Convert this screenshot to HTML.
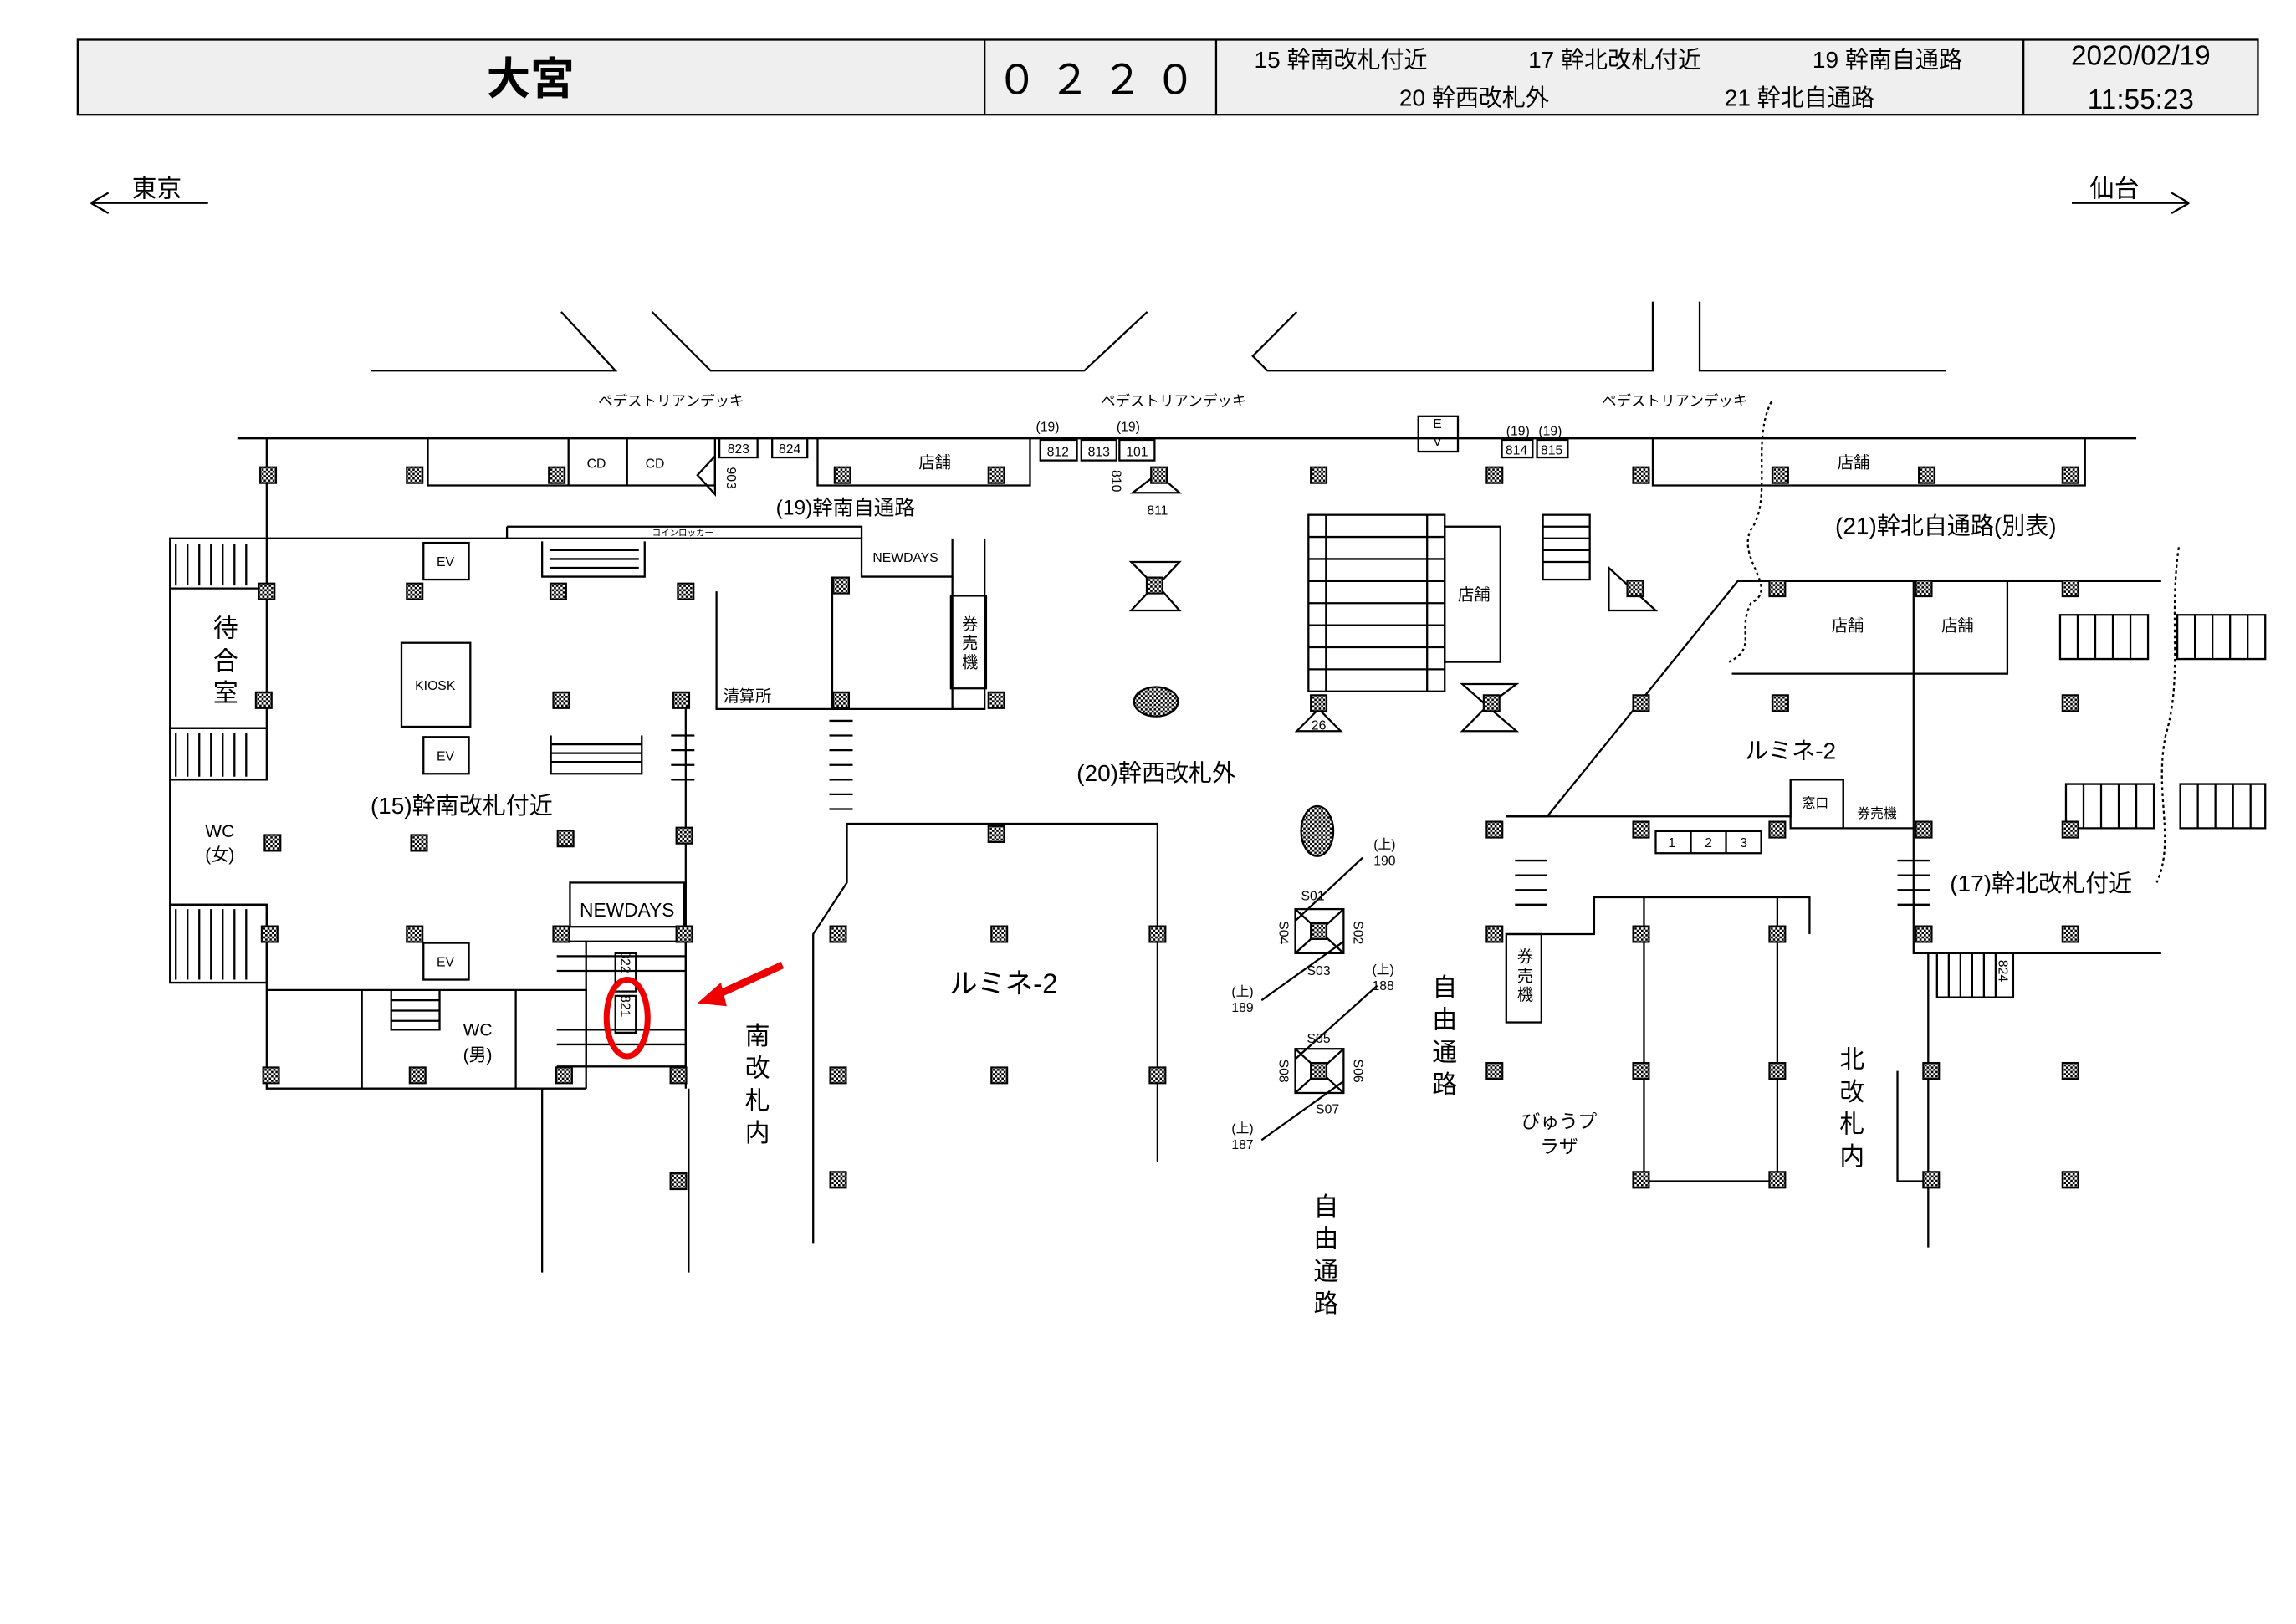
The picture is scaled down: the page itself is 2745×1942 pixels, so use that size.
<!DOCTYPE html>
<html><head><meta charset="utf-8"><style>
html,body{margin:0;padding:0;background:#fff;}
svg{display:block;}
text{font-family:"Liberation Sans","Noto Sans CJK JP",sans-serif;fill:#000;}
</style></head><body>
<svg width="2745" height="1942" viewBox="0 0 1567 1104" preserveAspectRatio="none" xmlns="http://www.w3.org/2000/svg">
<defs>
<pattern id="chk" width="3" height="3" patternUnits="userSpaceOnUse"><rect width="3" height="3" fill="#fff"/><rect width="1.5" height="1.5" fill="#000"/><rect x="1.5" y="1.5" width="1.5" height="1.5" fill="#000"/></pattern>
<symbol id="p" viewBox="0 0 12 12"><rect x="0.5" y="0.5" width="11" height="11" fill="url(#chk)" stroke="#000" stroke-width="1.4"/></symbol>
</defs>
<rect width="1567" height="1104" fill="#fff"/>
<g stroke="#000" fill="none" stroke-width="1.3">
<rect x="53" y="27" width="1488" height="51" fill="#efefef"/>
<line x1="672" y1="27" x2="672" y2="78"/><line x1="830" y1="27" x2="830" y2="78"/><line x1="1381" y1="27" x2="1381" y2="78"/>
<path d="M62 138H142M62 138l12-7M62 138l12 7"/>
<path d="M1414 138H1494M1494 138l-12-7M1494 138l-12 7"/>
<path d="M253 252H420L383 212M445 212L485 252H740L783 212M885 212L855 242L865 252H1128V205M1160 205V252H1328"/>
<line x1="162" y1="298" x2="1458" y2="298"/>
<line x1="182" y1="298" x2="182" y2="366"/>
<path d="M292 298V330H488V298M388 298V330M428 298V330"/>
<rect x="491" y="298" width="26" height="13"/><rect x="527" y="298" width="24" height="13"/>
<path d="M558 298V330H703V298"/>
<rect x="710" y="299" width="25" height="14"/><rect x="738" y="299" width="24" height="14"/><rect x="764" y="299" width="24" height="14"/>
<rect x="968" y="283" width="27" height="24"/>
<rect x="1025" y="299" width="21" height="12"/><rect x="1049" y="299" width="21" height="12"/>
<path d="M1128 298V330H1423V298"/>
<path d="M476 323L488 310V336Z"/>
<path d="M773 335L805 335L790 322Z"/>
<path d="M1209 273 C1195 300 1210 340 1195 360 C1185 380 1215 400 1195 410 C1185 430 1200 440 1180 450" stroke-dasharray="2 2"/>
<path d="M182 366H588V392H650V366M346 358H588V366M346 358V366"/>
<path d="M116 366H182V400H116ZM116 366V400"/>
<path d="M116 400V495H182V400"/>
<path d="M116 495H182V530H116Z"/>
<path d="M116 530V615H182"/>
<path d="M116 615H182V668H116Z"/>
<path d="M182 615V740H400"/>
<rect x="289" y="369" width="31" height="25"/>
<rect x="274" y="437" width="47" height="57"/>
<rect x="289" y="501" width="31" height="25"/>
<rect x="289" y="641" width="31" height="25"/>
<path d="M370 368V392H440V368M375 374H436M375 380H436M375 386H436"/>
<path d="M376 500V526H438V500M376 506H438M376 512H438M376 518H438"/>
<path d="M489 402V482H672V366M568 392V482M650 392V482"/>
<rect x="649" y="405" width="24" height="63"/>
<path d="M458 500h16M458 510h16M458 520h16M458 530h16"/>
<path d="M566 490h16M566 500h16M566 510h16M566 520h16M566 530h16M566 540h16M566 550h16"/>
<path d="M468 482V740"/>
<path d="M182 673H400V740M247 673V740M267 673H300V700H267ZM267 680H300M267 687H300M267 694H300"/>
<path d="M352 673V740"/>
<rect x="389" y="600" width="78" height="30"/>
<path d="M380 640H468V725H400M380 650H468M380 660H468M380 700H468M380 710H468M380 725H468M400 640V725"/>
<rect x="420" y="648" width="14" height="26"/><rect x="420" y="677" width="14" height="25"/>
<path d="M370 740V865M470 740V865"/>
<path d="M555 845V635L578 600V560H790V790"/>
<rect x="893" y="350" width="93" height="120"/>
<path d="M893 365H986M893 380H986M893 395H986M893 410H986M893 425H986M893 440H986M893 455H986M905 350V470M974 350V470"/>
<rect x="986" y="358" width="38" height="92"/>
<rect x="1053" y="350" width="32" height="44"/>
<path d="M1053 358H1085M1053 366H1085M1053 374H1085M1053 382H1085"/>
<path d="M772 382H805L790 398L805 415H772L788 398Z"/>
<path d="M885 497L900 482L915 497Z"/>
<path d="M998 465L1035 465L1015 480L1035 497H998L1015 480Z"/>
<path d="M1098 386L1130 415H1098Z"/>
<ellipse cx="789" cy="477" rx="15" ry="10" fill="url(#chk)"/>
<ellipse cx="899" cy="565" rx="11" ry="17" fill="url(#chk)"/>
<rect x="884" y="618" width="33" height="30"/><path d="M884 618L917 648M917 618L884 648"/>
<rect x="884" y="713" width="33" height="30"/><path d="M884 713L917 743M917 713L884 743"/>
<path d="M930 583L884 626M861 680L917 640M940 670L884 720M861 775L917 735"/>
<path d="M1028 555H1056L1186 395H1475M1306 395V648H1475M1182 458H1370V395"/>
<path d="M1028 555H1222V530H1258V563H1306"/>
<rect x="1222" y="530" width="36" height="33"/>
<rect x="1130" y="565" width="72" height="15"/><path d="M1154 565V580M1178 565V580"/>
<path d="M1034 585h22M1034 595h22M1034 605h22M1034 615h22"/>
<path d="M1295 585h22M1295 595h22M1295 605h22M1295 615h22"/>
<path d="M1028 635H1088V610H1235V635"/>
<rect x="1028" y="635" width="24" height="60"/>
<path d="M1122 610V803H1213V610M1213 635V803"/>
<path d="M1316 648V848M1295 728V803H1316"/>
<rect x="1322" y="648" width="52" height="30"/><path d="M1330 648V678M1338 648V678M1346 648V678M1354 648V678M1362 648V678"/>
<path d="M1406 418H1466V448H1406ZM1418 418V448M1430 418V448M1442 418V448M1454 418V448"/>
<path d="M1486 418H1546V448H1486ZM1498 418V448M1510 418V448M1522 418V448M1534 418V448"/>
<path d="M1410 533H1470V563H1410ZM1422 533V563M1434 533V563M1446 533V563M1458 533V563"/>
<path d="M1488 533H1546V563H1488ZM1500 533V563M1512 533V563M1524 533V563M1536 533V563"/>
<path d="M1487 372C1480 420 1490 460 1478 500C1470 540 1485 570 1472 600" stroke-dasharray="2 2"/>
<path d="M120 370V398M128 370V398M136 370V398M144 370V398M152 370V398M160 370V398M168 370V398"/>
<path d="M120 498V528M128 498V528M136 498V528M144 498V528M152 498V528M160 498V528M168 498V528"/>
<path d="M120 618V666M128 618V666M136 618V666M144 618V666M152 618V666M160 618V666M168 618V666"/>
</g>
<ellipse cx="428" cy="692" rx="14" ry="26" fill="none" stroke="#e00" stroke-width="4"/>
<path d="M534 656L488 677" stroke="#e00" stroke-width="5"/>
<path d="M476 682L492 668L496 684Z" fill="#e00"/>
<g>
<use href="#p" x="177" y="317" width="12" height="12"/><use href="#p" x="277" y="317" width="12" height="12"/><use href="#p" x="374" y="317" width="12" height="12"/><use href="#p" x="569" y="317" width="12" height="12"/><use href="#p" x="674" y="317" width="12" height="12"/><use href="#p" x="894" y="317" width="12" height="12"/><use href="#p" x="1014" y="317" width="12" height="12"/><use href="#p" x="1114" y="317" width="12" height="12"/><use href="#p" x="1209" y="317" width="12" height="12"/><use href="#p" x="1309" y="317" width="12" height="12"/><use href="#p" x="1407" y="317" width="12" height="12"/><use href="#p" x="785" y="317" width="12" height="12"/>
<use href="#p" x="176" y="396" width="12" height="12"/><use href="#p" x="277" y="396" width="12" height="12"/><use href="#p" x="375" y="396" width="12" height="12"/><use href="#p" x="462" y="396" width="12" height="12"/><use href="#p" x="568" y="392" width="12" height="12"/><use href="#p" x="1110" y="394" width="12" height="12"/><use href="#p" x="1207" y="394" width="12" height="12"/><use href="#p" x="1307" y="394" width="12" height="12"/><use href="#p" x="1407" y="394" width="12" height="12"/><use href="#p" x="782" y="392" width="12" height="12"/>
<use href="#p" x="174" y="470" width="12" height="12"/><use href="#p" x="377" y="470" width="12" height="12"/><use href="#p" x="459" y="470" width="12" height="12"/><use href="#p" x="568" y="470" width="12" height="12"/><use href="#p" x="674" y="470" width="12" height="12"/><use href="#p" x="1114" y="472" width="12" height="12"/><use href="#p" x="1209" y="472" width="12" height="12"/><use href="#p" x="1407" y="472" width="12" height="12"/><use href="#p" x="894" y="472" width="12" height="12"/><use href="#p" x="1012" y="472" width="12" height="12"/>
<use href="#p" x="180" y="567" width="12" height="12"/><use href="#p" x="280" y="567" width="12" height="12"/><use href="#p" x="380" y="564" width="12" height="12"/><use href="#p" x="461" y="562" width="12" height="12"/><use href="#p" x="674" y="561" width="12" height="12"/><use href="#p" x="1014" y="558" width="12" height="12"/><use href="#p" x="1114" y="558" width="12" height="12"/><use href="#p" x="1207" y="558" width="12" height="12"/><use href="#p" x="1307" y="558" width="12" height="12"/><use href="#p" x="1407" y="558" width="12" height="12"/>
<use href="#p" x="178" y="629" width="12" height="12"/><use href="#p" x="277" y="629" width="12" height="12"/><use href="#p" x="377" y="629" width="12" height="12"/><use href="#p" x="461" y="629" width="12" height="12"/><use href="#p" x="566" y="629" width="12" height="12"/><use href="#p" x="676" y="629" width="12" height="12"/><use href="#p" x="784" y="629" width="12" height="12"/><use href="#p" x="1014" y="629" width="12" height="12"/><use href="#p" x="1114" y="629" width="12" height="12"/><use href="#p" x="1207" y="629" width="12" height="12"/><use href="#p" x="1307" y="629" width="12" height="12"/><use href="#p" x="1407" y="629" width="12" height="12"/><use href="#p" x="894" y="627" width="12" height="12"/>
<use href="#p" x="179" y="725" width="12" height="12"/><use href="#p" x="279" y="725" width="12" height="12"/><use href="#p" x="379" y="725" width="12" height="12"/><use href="#p" x="457" y="725" width="12" height="12"/><use href="#p" x="566" y="725" width="12" height="12"/><use href="#p" x="676" y="725" width="12" height="12"/><use href="#p" x="784" y="725" width="12" height="12"/><use href="#p" x="1014" y="722" width="12" height="12"/><use href="#p" x="1114" y="722" width="12" height="12"/><use href="#p" x="1207" y="722" width="12" height="12"/><use href="#p" x="1312" y="722" width="12" height="12"/><use href="#p" x="1407" y="722" width="12" height="12"/><use href="#p" x="894" y="722" width="12" height="12"/>
<use href="#p" x="457" y="797" width="12" height="12"/><use href="#p" x="566" y="796" width="12" height="12"/><use href="#p" x="1114" y="796" width="12" height="12"/><use href="#p" x="1207" y="796" width="12" height="12"/><use href="#p" x="1312" y="796" width="12" height="12"/><use href="#p" x="1407" y="796" width="12" height="12"/>
</g>
<g>
<text x="362" y="64" font-size="30" font-weight="bold" text-anchor="middle">大宮</text>
<text x="752" y="64" font-size="28" text-anchor="middle" letter-spacing="8">０２２０</text>
<text x="856" y="46" font-size="16">15 幹南改札付近</text>
<text x="1043" y="46" font-size="16">17  幹北改札付近</text>
<text x="1237" y="46" font-size="16">19 幹南自通路</text>
<text x="955" y="72" font-size="16">20 幹西改札外</text>
<text x="1177" y="72" font-size="16">21 幹北自通路</text>
<text x="1461" y="44" font-size="19" text-anchor="middle">2020/02/19</text>
<text x="1461" y="74" font-size="19" text-anchor="middle">11:55:23</text>
<text x="90" y="134" font-size="17">東京</text>
<text x="1426" y="134" font-size="17">仙台</text>
<text x="458" y="276" font-size="10" text-anchor="middle">ペデストリアンデッキ</text>
<text x="801" y="276" font-size="10" text-anchor="middle">ペデストリアンデッキ</text>
<text x="1143" y="276" font-size="10" text-anchor="middle">ペデストリアンデッキ</text>
<g font-size="9" text-anchor="middle">
<text x="407" y="318">CD</text><text x="447" y="318">CD</text>
<text x="504" y="308">823</text><text x="539" y="308">824</text>
<text x="722" y="310">812</text><text x="750" y="310">813</text><text x="776" y="310">101</text>
<text x="715" y="293">(19)</text><text x="770" y="293">(19)</text>
<text x="1036" y="296">(19)</text><text x="1058" y="296">(19)</text>
<text x="1035" y="309">814</text><text x="1059" y="309">815</text>
<text x="981" y="291">E</text><text x="981" y="303">V</text>
<text x="790" y="350">811</text>
<text x="304" y="385">EV</text><text x="304" y="517">EV</text><text x="304" y="657">EV</text>
<text x="297" y="469">KIOSK</text>
<text x="618" y="382">NEWDAYS</text>
<text x="896" y="612">S01</text><text x="900" y="663">S03</text>
<text x="900" y="709">S05</text><text x="906" y="757">S07</text>
<text x="945" y="577">(上)</text><text x="945" y="588">190</text>
<text x="848" y="677">(上)</text><text x="848" y="688">189</text>
<text x="944" y="662">(上)</text><text x="944" y="673">188</text>
<text x="848" y="770">(上)</text><text x="848" y="781">187</text>
<text x="1141" y="576">1</text><text x="1166" y="576">2</text><text x="1190" y="576">3</text>
<text x="1239" y="549">窓口</text><text x="1281" y="556">券売機</text>
<text x="900" y="496">26</text>
<text transform="translate(496,325) rotate(90)">903</text>
<text transform="translate(759,327) rotate(90)">810</text>
<text transform="translate(873,634) rotate(90)">S04</text>
<text transform="translate(924,634) rotate(90)">S02</text>
<text transform="translate(873,728) rotate(90)">S08</text>
<text transform="translate(924,728) rotate(90)">S06</text>
<text transform="translate(424,654) rotate(90)">822</text>
<text transform="translate(424,684) rotate(90)">821</text>
<text transform="translate(1364,660) rotate(90)">824</text>
</g>
<text x="466" y="364" font-size="6" text-anchor="middle">コインロッカー</text>
<text x="638" y="318" font-size="11" text-anchor="middle">店舗</text>
<text x="1265" y="318" font-size="11" text-anchor="middle">店舗</text>
<text x="1261" y="429" font-size="11" text-anchor="middle">店舗</text>
<text x="1336" y="429" font-size="11" text-anchor="middle">店舗</text>
<text x="1006" y="408" font-size="11" text-anchor="middle">店舗</text>
<text x="577" y="350" font-size="14" text-anchor="middle">(19)幹南自通路</text>
<text x="1328" y="363" font-size="16" text-anchor="middle">(21)幹北自通路(別表)</text>
<text x="510" y="477" font-size="11" text-anchor="middle">清算所</text>
<text x="789" y="531" font-size="16" text-anchor="middle">(20)幹西改札外</text>
<text x="315" y="553" font-size="16" text-anchor="middle">(15)幹南改札付近</text>
<text x="1222" y="516" font-size="16" text-anchor="middle">ルミネ-2</text>
<text x="685" y="675" font-size="19" text-anchor="middle">ルミネ-2</text>
<text x="1393" y="606" font-size="16" text-anchor="middle">(17)幹北改札付近</text>
<text x="428" y="623" font-size="13" text-anchor="middle">NEWDAYS</text>
<text x="150" y="569" font-size="12" text-anchor="middle">WC</text><text x="150" y="585" font-size="12" text-anchor="middle">(女)</text>
<text x="326" y="704" font-size="12" text-anchor="middle">WC</text><text x="326" y="721" font-size="12" text-anchor="middle">(男)</text>
<g font-size="17" text-anchor="middle">
<text x="154" y="433">待</text><text x="154" y="455">合</text><text x="154" y="477">室</text>
<text x="517" y="710">南</text><text x="517" y="732">改</text><text x="517" y="754">札</text><text x="517" y="776">内</text>
<text x="1264" y="726">北</text><text x="1264" y="748">改</text><text x="1264" y="770">札</text><text x="1264" y="792">内</text>
<text x="986" y="677">自</text><text x="986" y="699">由</text><text x="986" y="721">通</text><text x="986" y="743">路</text>
<text x="905" y="826">自</text><text x="905" y="848">由</text><text x="905" y="870">通</text><text x="905" y="892">路</text>
</g>
<g font-size="11" text-anchor="middle">
<text x="662" y="428">券</text><text x="662" y="441">売</text><text x="662" y="454">機</text>
<text x="1041" y="654">券</text><text x="1041" y="667">売</text><text x="1041" y="680">機</text>
</g>
<text x="1064" y="767" font-size="13" text-anchor="middle">びゅうプ</text>
<text x="1064" y="784" font-size="13" text-anchor="middle">ラザ</text>
</g>
</svg>
</body></html>
